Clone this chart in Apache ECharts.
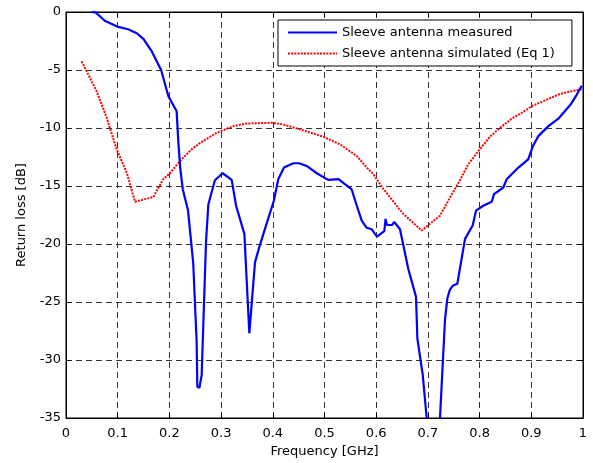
<!DOCTYPE html>
<html>
<head>
<meta charset="utf-8">
<script src="https://cdn.jsdelivr.net/npm/echarts@6/dist/echarts.min.js"></script>
<style>html,body{margin:0;padding:0;background:#fff;}#c{width:593px;height:463px;}</style>
</head>
<body>
<div id="c"></div>
<script>
var measuredFreq = [0.050,0.058,0.075,0.099,0.120,0.137,0.150,0.166,0.184,0.198,0.214,0.217,0.221,0.226,0.236,0.246,0.2527,0.254,0.258,0.2624,0.2708,0.2753,0.288,0.303,0.3205,0.329,0.345,0.3546,0.357,0.3656,0.375,0.402,0.4107,0.4217,0.4397,0.451,0.4655,0.485,0.507,0.527,0.5526,0.562,0.572,0.5816,0.5913,0.6015,0.6157,0.618,0.621,0.631,0.635,0.646,0.662,0.677,0.6796,0.690,0.6977,0.710,0.7234,0.733,0.7376,0.742,0.748,0.757,0.7718,0.7866,0.793,0.807,0.8234,0.8279,0.8459,0.8524,0.875,0.894,0.9027,0.9136,0.933,0.9523,0.976,0.988,0.9975];
var measuredLoss = [0,-0.06,-0.75,-1.26,-1.49,-1.83,-2.34,-3.4,-5.0,-7.26,-8.55,-11.0,-13.5,-15.3,-17.1,-21.6,-28.4,-32.3,-32.4,-31.3,-19.85,-16.6,-14.5,-13.9,-14.47,-16.7,-19.13,-27.7,-27.8,-21.56,-20.1,-16.27,-14.4,-13.4,-13.04,-13.04,-13.27,-13.9,-14.47,-14.4,-15.3,-16.64,-17.99,-18.6,-18.73,-19.37,-18.9,-17.84,-18.36,-18.36,-18.1,-18.73,-22.13,-24.56,-28.14,-31.28,-35,-37.5,-35,-26.57,-24.7,-24.0,-23.6,-23.42,-19.56,-18.4,-17.13,-16.7,-16.36,-15.7,-15.13,-14.41,-13.41,-12.7,-11.6,-10.7,-9.84,-9.2,-7.98,-7.12,-6.35];
var simFreq = [0.0303,0.0594,0.0787,0.098,0.1174,0.1335,0.169,0.188,0.201,0.2205,0.243,0.259,0.2914,0.3236,0.3495,0.374,0.398,0.4204,0.4526,0.4977,0.530,0.5623,0.5816,0.5945,0.614,0.6447,0.6525,0.688,0.7234,0.7427,0.762,0.778,0.7976,0.820,0.8395,0.862,0.8814,0.9007,0.930,0.9555,0.978,1.0];
var simLoss = [-4.26,-6.84,-9.12,-11.84,-13.84,-16.36,-15.95,-14.41,-13.9,-12.84,-11.84,-11.3,-10.41,-9.84,-9.61,-9.58,-9.55,-9.7,-10.12,-10.75,-11.41,-12.41,-13.4,-13.98,-15.27,-16.99,-17.41,-18.84,-17.56,-16.0,-14.5,-13.13,-12.0,-10.75,-9.98,-9.2,-8.7,-8.12,-7.55,-7.06,-6.83,-6.63];
var seriesNames = ['Sleeve antenna measured','Sleeve antenna simulated (Eq 1)'];
var xTitle = 'Frequency [GHz]';
var yTitle = 'Return loss [dB]';

function pairs(xs, ys){ return xs.map(function(x,i){ return [x, ys[i]]; }); }

var FONT = 'DejaVu Sans';
var chart = echarts.init(document.getElementById('c'), null, {renderer:'canvas'});
var tickCommon = {show:true, inside:true, length:5, lineStyle:{color:'#000', width:1}};
var lineCommon = {show:true, onZero:false, lineStyle:{color:'#000', width:1}};
var gridLine = {show:true, lineStyle:{color:'#333', width:1, type:[6,4]}};
chart.setOption({
  animation:false,
  backgroundColor:'#fff',
  grid:{left:66, right:10, top:12, bottom:43, show:true, borderColor:'#000', borderWidth:1, backgroundColor:'#fff'},
  legend:{
    orient:'vertical', left:278, top:20,
    itemWidth:49, itemHeight:14, itemGap:8,
    padding:[6,17,6,9],
    borderColor:'#000', borderWidth:1, backgroundColor:'#fff',
    itemStyle:{opacity:0},
    textStyle:{fontFamily:FONT, fontSize:13, color:'#000'},
    data:seriesNames
  },
  xAxis:[
    {type:'value', min:0, max:1, interval:0.1, position:'bottom',
     name:xTitle, nameLocation:'middle', nameGap:27,
     nameTextStyle:{fontFamily:FONT, fontSize:13, color:'#000'},
     axisLine:lineCommon, axisTick:tickCommon,
     axisLabel:{fontFamily:FONT, fontSize:13, color:'#000', margin:9},
     splitLine:gridLine},
    {type:'value', min:0, max:1, interval:0.1, position:'top',
     axisLine:lineCommon, axisTick:tickCommon, axisLabel:{show:false}, splitLine:{show:false}}
  ],
  yAxis:[
    {type:'value', min:-35, max:0, interval:5, position:'left',
     name:yTitle, nameLocation:'middle', nameGap:38,
     nameTextStyle:{fontFamily:FONT, fontSize:13, color:'#000'},
     axisLine:lineCommon, axisTick:tickCommon,
     axisLabel:{fontFamily:FONT, fontSize:13, color:'#000', margin:5},
     splitLine:gridLine},
    {type:'value', min:-35, max:0, interval:5, position:'right',
     axisLine:lineCommon, axisTick:tickCommon, axisLabel:{show:false}, splitLine:{show:false}}
  ],
  series:[
    {name:seriesNames[0], type:'line', data:pairs(measuredFreq, measuredLoss), symbol:'none', clip:true,
     lineStyle:{color:'#0000ff', width:2.2}, itemStyle:{color:'#0000ff'}, z:3},
    {name:seriesNames[1], type:'line', data:pairs(simFreq, simLoss), symbol:'none', clip:true,
     lineStyle:{color:'#ff0000', width:2, type:[2,1.2]}, itemStyle:{color:'#ff0000'}, z:2}
  ]
});
</script>
</body>
</html>
